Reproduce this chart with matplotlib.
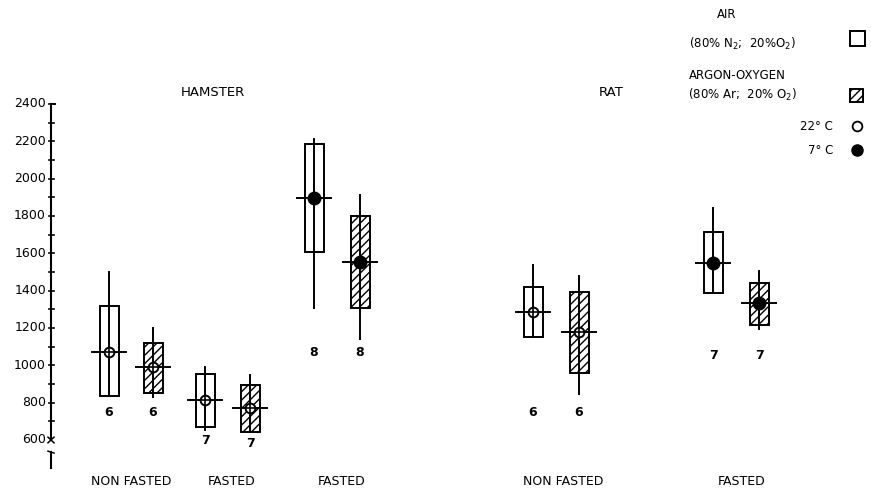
import numpy as np
import matplotlib.pyplot as plt
from matplotlib.patches import Rectangle

# values (O2 consumption units as plotted)
groups = ["HAMSTER", "RAT"]
gas = ["air", "argon", "air", "argon", "air", "argon", "air", "argon", "air", "argon"]
temp = [22, 22, 22, 22, 7, 7, 22, 22, 7, 7]
mean = [1070, 990, 815, 772, 1897, 1554, 1286, 1179, 1548, 1334]
box_hi = [1320, 1120, 954, 895, 2186, 1800, 1420, 1393, 1714, 1441]
box_lo = [836, 852, 670, 643, 1607, 1307, 1152, 959, 1388, 1216]
rng_hi = [1500, 1200, 991, 948, 2213, 1913, 1538, 1479, 1843, 1505]
rng_lo = [836, 831, 654, 643, 1307, 1141, 1152, 847, 1388, 1195]
n_animals = [6, 6, 7, 7, 8, 8, 6, 6, 7, 7]
cond_labels = ["NON FASTED", "FASTED", "FASTED", "NON FASTED", "FASTED"]
yticks = [600, 800, 1000, 1200, 1400, 1600, 1800, 2000, 2200, 2400]

# layout (x in pixel-like units)
xpos = [109, 153, 205, 250, 314, 360, 533, 579, 713, 759]
n_y = [745, 745, 595, 580, 1066, 1066, 745, 745, 1050, 1050]
cond_x = [131, 232, 342, 563, 742]
group_x = [213, 611]

plt.rcParams['font.family'] = ['DejaVu Sans']
fig = plt.figure(figsize=(8.71, 4.90), dpi=100)
ax = fig.add_axes([0, 0, 1, 1])
ax.set_xlim(0, 871)
ax.set_ylim(332, 2957)
ax.axis('off')

lw = 1.4
bw = 19
hw = 17
for i in range(len(mean)):
    x = xpos[i]
    hatch = '////' if gas[i] == 'argon' else None
    ax.add_patch(Rectangle((x - bw / 2, box_lo[i]), bw, box_hi[i] - box_lo[i],
                           facecolor='white', edgecolor='black', lw=lw,
                           hatch=hatch, zorder=2))
    ax.plot([x, x], [rng_lo[i], rng_hi[i]], color='black', lw=lw, zorder=3)
    ax.plot([x - hw, x + hw], [mean[i], mean[i]], color='black', lw=lw, zorder=3)
    if temp[i] == 22:
        ax.plot(x, mean[i], 'o', ms=7, mfc='white', mec='black', mew=1.4, zorder=4)
        ax.plot([x, x], [mean[i] - 30, mean[i] + 30], color='black', lw=1.2, zorder=5)
        ax.plot([x - 5, x + 5], [mean[i], mean[i]], color='black', lw=1.2, zorder=5)
    else:
        ax.plot(x, mean[i], 'o', ms=9, mfc='black', mec='black', zorder=4)
    ax.text(x, n_y[i], str(n_animals[i]), ha='center', va='center',
            fontsize=9, fontweight='bold')

# y axis
ax_x = 51
ax.plot([ax_x, ax_x], [610, 2400], color='black', lw=1.5)
for v in range(700, 2401, 100):
    ax.plot([ax_x - 2.5, ax_x + 2.5], [v, v], color='black', lw=1.2)
ax.plot([ax_x, ax_x + 4], [2400, 2400], color='black', lw=1.4)
ax.plot([ax_x - 3, ax_x + 3], [615, 585], color='black', lw=1.1)
ax.plot([ax_x - 3, ax_x + 3], [585, 615], color='black', lw=1.1)
ax.plot([ax_x, ax_x], [450, 536], color='black', lw=1.5)
ax.plot([ax_x - 3, ax_x + 3], [540, 530], color='black', lw=1.1)
for v in yticks:
    ax.text(ax_x - 5, v, str(v), ha='right', va='center', fontsize=9)

for gx, g in zip(group_x, groups):
    ax.text(gx, 2464, g, ha='center', va='center', fontsize=9.5)
for cx, c in zip(cond_x, cond_labels):
    ax.text(cx, 375, c, ha='center', va='center', fontsize=9)

# legend block
ax.text(727, 2877, "AIR", ha='center', va='center', fontsize=8.5)
ax.text(743, 2722, r"(80% N$_2$;  20%O$_2$)", ha='center', va='center', fontsize=8.5)
ax.text(737, 2555, "ARGON-OXYGEN", ha='center', va='center', fontsize=8.5)
ax.text(743, 2448, r"(80% Ar;  20% O$_2$)", ha='center', va='center', fontsize=8.5)
ax.add_patch(Rectangle((850, 2711), 15, 78, facecolor='white', edgecolor='black', lw=1.4))
ax.add_patch(Rectangle((850, 2411), 13, 70, facecolor='white', edgecolor='black',
                       lw=1.4, hatch='////'))
ax.text(833, 2280, "22° C", ha='right', va='center', fontsize=8.5)
ax.text(833, 2152, "7° C", ha='right', va='center', fontsize=8.5)
ax.plot(857, 2280, 'o', ms=7, mfc='white', mec='black', mew=1.3)
ax.plot(857, 2152, 'o', ms=8, mfc='black', mec='black')

fig.savefig('out.png', dpi=100)
